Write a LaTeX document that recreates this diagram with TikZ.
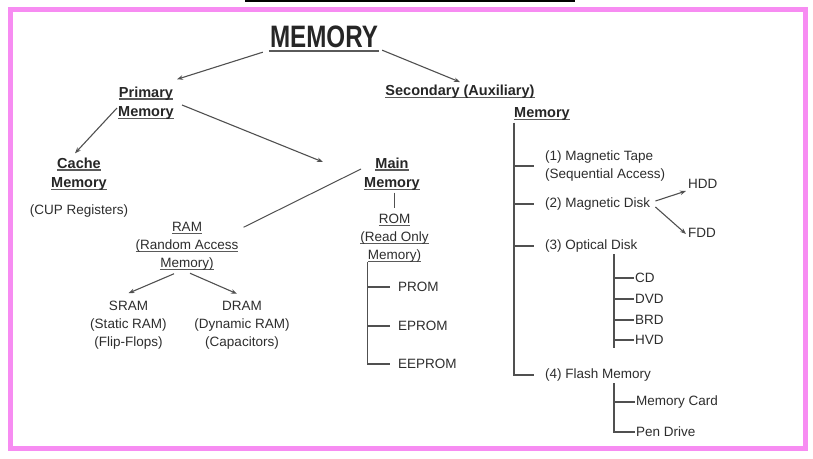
\documentclass[tikz,border=0pt]{standalone}
\usepackage{fontspec}
\setmainfont{Liberation Sans}
\usetikzlibrary{calc,arrows.meta}
\definecolor{pinkc}{RGB}{247,140,242}
\definecolor{txt}{RGB}{45,45,45}
\definecolor{lnc}{RGB}{80,80,80}
\definecolor{ulc}{RGB}{90,90,90}
\newcommand\ulx[1]{\setbox0\hbox{#1}\leavevmode\rlap{\color{ulc}\rule[-2.6pt]{\wd0}{1.2pt}}\box0}
\begin{document}
\begin{tikzpicture}[x=1pt,y=-1pt,
 lbl/.style={inner sep=0pt, text=txt, font=\fontsize{13.5}{18}\selectfont, align=center},
 lbll/.style={lbl, align=left, anchor=west},
 boldlbl/.style={inner sep=0pt, text=black!85, font=\fontsize{14.5}{19.5}\selectfont\bfseries, align=center},
 conn/.style={draw=lnc, line width=1.3pt},
 arr/.style={draw=lnc, line width=1.1pt, -{Stealth[length=6pt,width=4.5pt]}},
]
\useasboundingbox (0,0) rectangle (813,458);
\draw[pinkc, line width=5pt] (10.5,9) rectangle (805,448);
\draw[black, line width=1.6pt] (245,0.8) -- (575,0.8);

% title
\node[inner sep=0pt, text=black!85, font=\fontsize{31}{31}\selectfont\bfseries] (mem) at (324,37) {\scalebox{0.78}[1]{MEMORY}};
\draw[ulc, line width=2.6pt] ($(mem.south west)+(-1,3)$) -- ($(mem.south east)+(1,3)$);

% primary side
\node[boldlbl] (prim) at (146,103) {\ulx{Primary}\\\ulx{Memory}};
\node[boldlbl] (cache) at (79,174) {\ulx{Cache}\\\ulx{Memory}};
\node[lbl] (cup) at (79,211) {(CUP Registers)};
\node[boldlbl] (mainm) at (392,174) {\ulx{Main}\\\ulx{Memory}};
\node[lbl] (rom) at (394.5,238) {\ulx{ROM}\\\ulx{(Read Only}\\\ulx{Memory)}};
\node[lbll] (prom) at (398,287) {PROM};
\node[lbll] (eprom) at (398,326) {EPROM};
\node[lbll] (eeprom) at (398,364) {EEPROM};
\node[lbl] (ram) at (187,246) {\ulx{RAM}\\\ulx{(Random Access}\\\ulx{Memory)}};
\node[lbl] (sram) at (128.5,325) {SRAM\\(Static RAM)\\(Flip-Flops)};
\node[lbl] (dram) at (242,325) {DRAM\\(Dynamic RAM)\\(Capacitors)};

% secondary side
\node[boldlbl] (sec) at (460,92) {\ulx{Secondary (Auxiliary)}};
\node[boldlbl] (secm) at (542,114) {\ulx{Memory}};
\node[lbll] (mt) at (545,166) {(1) Magnetic Tape\\(Sequential Access)};
\node[lbll] (md) at (545,204) {(2) Magnetic Disk};
\node[lbll] (od) at (545,246) {(3) Optical Disk};
\node[lbll] (fm) at (545,375) {(4) Flash Memory};
\node[lbll] (hdd) at (688,184) {HDD};
\node[lbll] (fdd) at (688,233) {FDD};
\node[lbll] (cd) at (635,278) {CD};
\node[lbll] (dvd) at (635,299) {DVD};
\node[lbll] (brd) at (635,320) {BRD};
\node[lbll] (hvd) at (635,340) {HVD};
\node[lbll] (mc) at (636,402) {Memory Card};
\node[lbll] (pd) at (636,432) {Pen Drive};

% connectors: top
\draw[arr] ($(mem.south west)+(-7,4)$) -- ($(prim.north east)+(3,-7)$);
\draw[arr] ($(mem.south east)+(4,2)$) -- ($(sec.north)+(0,-3)$);
% primary
\draw[arr] ($(prim.west)+(-1,5)$) -- ($(cache.north)+(-4,-4)$);
\draw[arr] ($(prim.east)+(8,2)$) -- ($(mainm.west)+(-41,-12)$);
\draw[conn, line width=1pt] ($(mainm.west)+(-3,-5)$) -- ($(ram.north east)+(5,5.5)$);
\draw[conn] ($(mainm.south)+(2.5,2)$) -- ($(rom.north)+(0,-6)$);
\coordinate (romtrunk) at ($(rom.south west)+(7.5,0)$);
\draw[conn] (romtrunk) |- ($(eeprom.west)+(-8,0)$);
\draw[conn] (romtrunk |- prom.west) -- ($(prom.west)+(-8,0)$);
\draw[conn] (romtrunk |- eprom.west) -- ($(eprom.west)+(-8,0)$);
\draw[arr] ($(ram.south)+(-13,3.5)$) -- ($(sram.north)+(0,-7.5)$);
\draw[arr] ($(ram.south)+(3,3)$) -- ($(dram.north)+(-5,-7)$);

% secondary
\coordinate (sectrunk) at ($(secm.south west)+(0,2)$);
\draw[conn] (sectrunk) |- ($(fm.west)+(-11,0)$);
\draw[conn] (sectrunk |- mt.west) -- ($(mt.west)+(-11,0)$);
\draw[conn] (sectrunk |- md.west) -- ($(md.west)+(-11,0)$);
\draw[conn] (sectrunk |- od.west) -- ($(od.west)+(-11,0)$);
\draw[arr] ($(md.east)+(5,-3)$) -- ($(hdd.west)+(-2,7)$);
\draw[arr] ($(md.east)+(5,3)$) -- ($(fdd.west)+(-2,1)$);
\coordinate (odtrunk) at ($(od.south west)+(69,2)$);
\draw[conn] (odtrunk) -- ($(odtrunk |- hvd.west)+(0,8)$);
\draw[conn] (odtrunk |- cd.west) -- ($(cd.west)+(-1,0)$);
\draw[conn] (odtrunk |- dvd.west) -- ($(dvd.west)+(-1,0)$);
\draw[conn] (odtrunk |- brd.west) -- ($(brd.west)+(-1,0)$);
\draw[conn] (odtrunk |- hvd.west) -- ($(hvd.west)+(-1,0)$);
\coordinate (fmtrunk) at ($(fm.south west)+(69,2)$);
\draw[conn] (fmtrunk) |- ($(pd.west)+(-1,0)$);
\draw[conn] (fmtrunk |- mc.west) -- ($(mc.west)+(-1,0)$);
\end{tikzpicture}
\end{document}
